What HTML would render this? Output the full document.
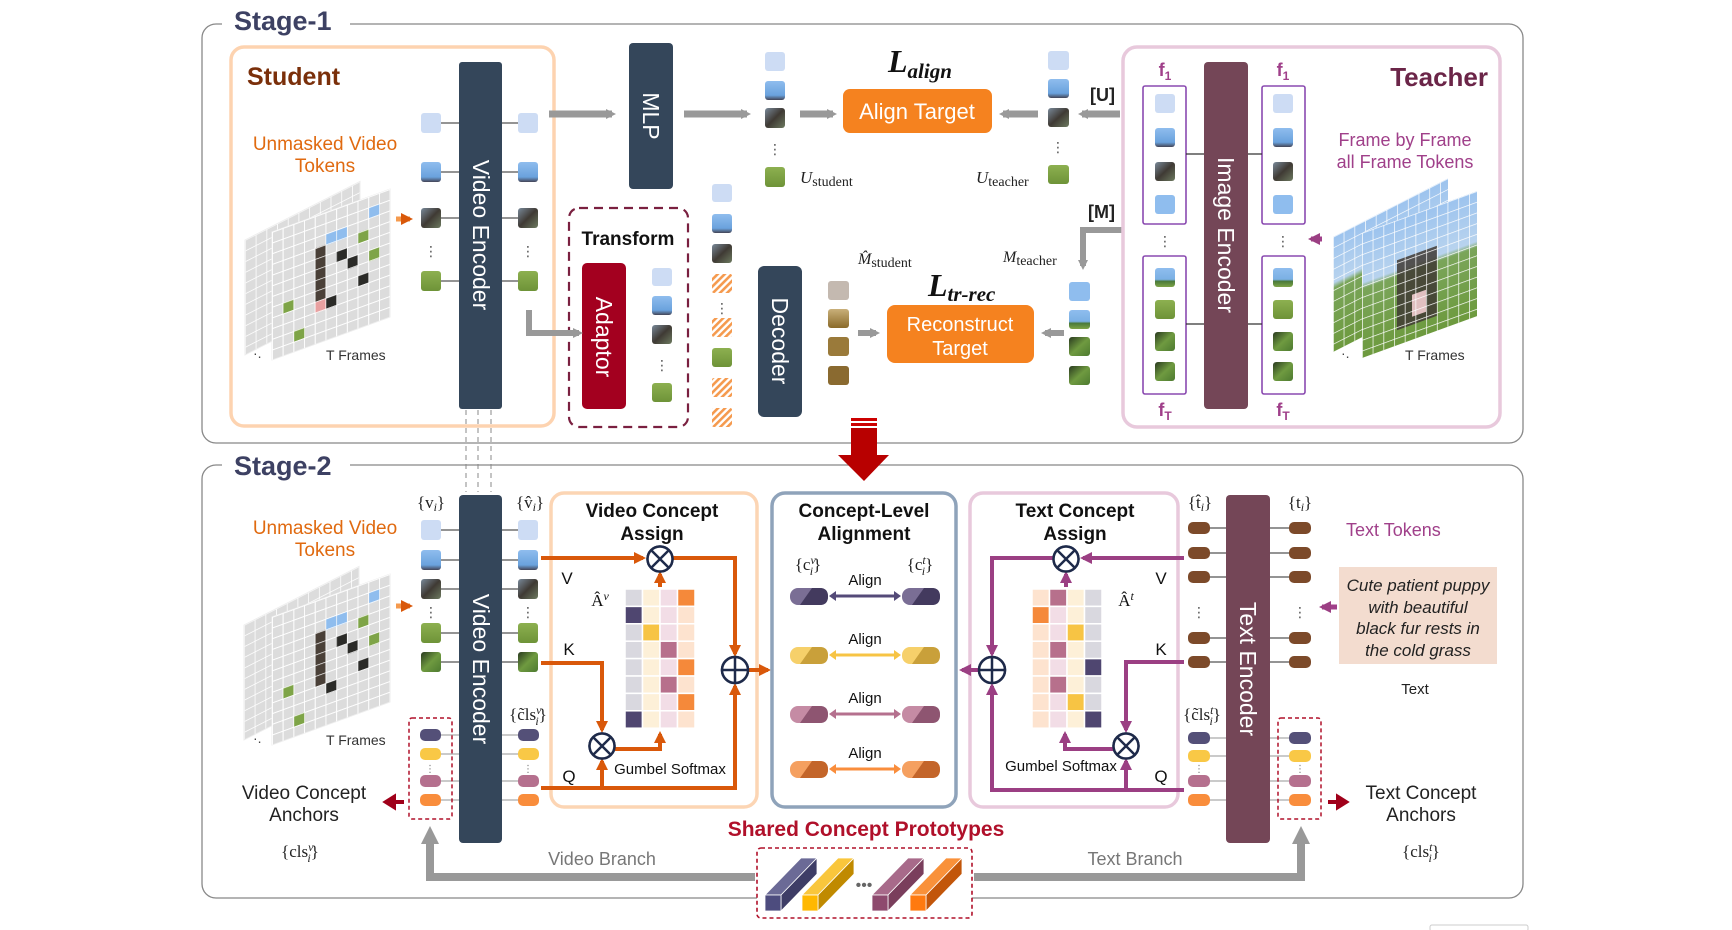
<!DOCTYPE html>
<html><head><meta charset="utf-8"><style>
html,body{margin:0;padding:0;background:#fff}
svg{display:block}
text{font-family:"Liberation Sans","DejaVu Sans",sans-serif}
.s{font-family:"Liberation Serif",serif}
</style></head><body>
<svg width="1732" height="930" viewBox="0 0 1732 930" xmlns="http://www.w3.org/2000/svg">
<defs>
<marker id="ag" markerWidth="10" markerHeight="10" refX="6" refY="5" orient="auto" markerUnits="userSpaceOnUse"><path d="M0,0 L10,5 L0,10 z" fill="#999"/></marker>
<marker id="ao" markerWidth="12" markerHeight="12" refX="9" refY="6" orient="auto" markerUnits="userSpaceOnUse"><path d="M0,0 L12,6 L0,12 z" fill="#d9580a"/></marker>
<marker id="ap" markerWidth="12" markerHeight="12" refX="9" refY="6" orient="auto" markerUnits="userSpaceOnUse"><path d="M0,0 L12,6 L0,12 z" fill="#9b3f83"/></marker>
<marker id="aG" markerWidth="18" markerHeight="18" refX="10" refY="9" orient="auto" markerUnits="userSpaceOnUse"><path d="M0,0 L18,9 L0,18 z" fill="#999"/></marker>
<pattern id="grid" width="10.7" height="10.7" patternUnits="userSpaceOnUse"><rect width="10.7" height="10.7" fill="#dcdcdc"/><path d="M0,0H10.7M0,0V10.7" stroke="#fff" stroke-width="1.6"/></pattern>
<pattern id="gridg" width="10.7" height="10.7" patternUnits="userSpaceOnUse"><path d="M0,0H10.7M0,0V10.7" stroke="#fff" stroke-width="1.4"/></pattern>
<linearGradient id="tg" x1="0" y1="0" x2="0" y2="1"><stop offset="0" stop-color="#9cc3ee"/><stop offset=".4" stop-color="#b8d3ee"/><stop offset=".45" stop-color="#7aa55a"/><stop offset="1" stop-color="#6d9a3e"/></linearGradient>
<pattern id="hatch" width="5" height="5" patternUnits="userSpaceOnUse" patternTransform="rotate(45)"><rect width="5" height="5" fill="#fff"/><rect width="2.6" height="5" fill="#f59a4e"/></pattern>
<linearGradient id="dog" x1="0" y1="0" x2="1" y2="1"><stop offset="0" stop-color="#7a8a9a"/><stop offset=".5" stop-color="#3f3a34"/><stop offset="1" stop-color="#6d7a60"/></linearGradient>
<linearGradient id="sky" x1="0" y1="0" x2="0" y2="1"><stop offset="0" stop-color="#8fbdee"/><stop offset=".75" stop-color="#6aa2dd"/><stop offset="1" stop-color="#445"/></linearGradient>
<linearGradient id="skyg" x1="0" y1="0" x2="0" y2="1"><stop offset="0" stop-color="#8fbdee"/><stop offset=".6" stop-color="#7ab0e4"/><stop offset=".7" stop-color="#4a7a3a"/><stop offset="1" stop-color="#7ea447"/></linearGradient>
<linearGradient id="grs" x1="0" y1="0" x2="0" y2="1"><stop offset="0" stop-color="#8db050"/><stop offset="1" stop-color="#6e9338"/></linearGradient>
<linearGradient id="grd" x1="0" y1="0" x2="1" y2="1"><stop offset="0" stop-color="#2a3a20"/><stop offset=".5" stop-color="#6f9a40"/><stop offset="1" stop-color="#4d7a30"/></linearGradient>
<linearGradient id="brn" x1="0" y1="0" x2="0" y2="1"><stop offset="0" stop-color="#c9b07a"/><stop offset="1" stop-color="#8a6a2a"/></linearGradient>
</defs>

<!-- Stage boxes -->
<rect x="202" y="24" width="1321" height="419" rx="14" fill="none" stroke="#888" stroke-width="1.3"/>
<rect x="222" y="8" width="128" height="32" fill="#fff"/>
<text x="234" y="30" font-size="27" font-weight="bold" fill="#3d4163">Stage-1</text>
<rect x="202" y="465" width="1321" height="433" rx="14" fill="none" stroke="#888" stroke-width="1.3"/>
<rect x="222" y="450" width="128" height="32" fill="#fff"/>
<text x="234" y="475" font-size="27" font-weight="bold" fill="#3d4163">Stage-2</text>

<!-- ===== STAGE 1 ===== -->
<rect x="231" y="47" width="323" height="379" rx="13" fill="none" stroke="#fdd3b0" stroke-width="3.5"/>
<text x="247" y="85" font-size="25" font-weight="bold" fill="#7a2f0a">Student</text>
<text x="325" y="150" font-size="19" fill="#e06a10" text-anchor="middle">Unmasked Video</text>
<text x="325" y="172" font-size="19" fill="#e06a10" text-anchor="middle">Tokens</text>

<!-- student frames -->
<g transform="translate(245,240) skewY(-27)"><rect width="115" height="115" fill="url(#grid)" stroke="#eee"/></g>
<g transform="translate(272,232) skewY(-20)">
<rect width="118" height="128" fill="url(#grid)" stroke="#eee"/>
<rect x="43" y="32" width="11" height="54" fill="#4a4038"/><rect x="54" y="22" width="21" height="11" fill="#8fbdee"/><rect x="64" y="43" width="11" height="11" fill="#2b2b28"/>
<rect x="75" y="54" width="11" height="11" fill="#2b2b28"/><rect x="86" y="32" width="11" height="11" fill="#7ea447"/><rect x="97" y="54" width="11" height="11" fill="#7ea447"/>
<rect x="11" y="75" width="11" height="11" fill="#7ea447"/><rect x="54" y="86" width="11" height="11" fill="#2b2b28"/><rect x="22" y="107" width="11" height="11" fill="#7ea447"/>
<rect x="86" y="75" width="11" height="11" fill="#2b2b28"/><rect x="43" y="86" width="11" height="11" fill="#e8a0a0"/><rect x="97" y="11" width="11" height="11" fill="#8fbdee"/>
<rect width="118" height="128" fill="url(#gridg)"/></g>
<text x="253" y="358" font-size="14" fill="#444">·.</text>
<text x="326" y="360" font-size="14" fill="#333">T Frames</text>
<path d="M396,219 H410" stroke="#f59a4e" stroke-width="5" marker-end="url(#ao)"/>

<rect x="459" y="62" width="43" height="347" rx="3" fill="#34465a"/>
<text transform="translate(473,235) rotate(90)" font-size="23" fill="#fff" text-anchor="middle">Video Encoder</text>
<g stroke="#555" stroke-width="1.3"><path d="M441,123H459M441,172H459M441,218H459M441,281H459M502,123H518M502,172H518M502,218H518M502,281H518"/></g>
<g>
<rect x="421" y="113" width="20" height="20" rx="3" fill="#cddcf4"/><rect x="518" y="113" width="20" height="20" rx="3" fill="#cddcf4"/>
<rect x="421" y="162" width="20" height="20" rx="3" fill="url(#sky)"/><rect x="518" y="162" width="20" height="20" rx="3" fill="url(#sky)"/>
<rect x="421" y="208" width="20" height="20" rx="3" fill="url(#dog)"/><rect x="518" y="208" width="20" height="20" rx="3" fill="url(#dog)"/>
<rect x="421" y="271" width="20" height="20" rx="3" fill="url(#grs)"/><rect x="518" y="271" width="20" height="20" rx="3" fill="url(#grs)"/>
</g>
<text x="431" y="256" font-size="14" fill="#555" text-anchor="middle">⋮</text><text x="528" y="256" font-size="14" fill="#555" text-anchor="middle">⋮</text>

<!-- MLP -->
<path d="M549,114 H612" stroke="#999" stroke-width="7" marker-end="url(#ag)"/>
<rect x="629" y="43" width="44" height="146" rx="4" fill="#34465a"/>
<text transform="translate(643,116) rotate(90)" font-size="23" fill="#fff" text-anchor="middle">MLP</text>
<path d="M684,114 H747" stroke="#999" stroke-width="7" marker-end="url(#ag)"/>
<rect x="765" y="52" width="20" height="19" rx="3" fill="#cddcf4"/>
<rect x="765" y="81" width="20" height="19" rx="3" fill="url(#sky)"/>
<rect x="765" y="108" width="20" height="20" rx="3" fill="url(#dog)"/>
<text x="775" y="154" font-size="14" fill="#555" text-anchor="middle">⋮</text>
<rect x="765" y="167" width="20" height="20" rx="3" fill="url(#grs)"/>
<text x="800" y="183" class="s" font-size="17" font-style="italic" fill="#222">U<tspan font-style="normal" font-size="14" dy="3">student</tspan></text>
<path d="M800,114 H833" stroke="#999" stroke-width="7" marker-end="url(#ag)"/>
<rect x="843" y="89" width="149" height="44" rx="7" fill="#f5821f"/>
<text x="917" y="119" font-size="22" fill="#fff" text-anchor="middle">Align Target</text>
<text x="888" y="72" class="s" font-size="32" font-weight="bold" font-style="italic" fill="#111">L<tspan font-size="21" dy="6">align</tspan></text>

<path d="M1038,114 H1003" stroke="#999" stroke-width="7" marker-end="url(#ag)"/>
<rect x="1048" y="51" width="21" height="19" rx="3" fill="#cddcf4"/>
<rect x="1048" y="79" width="21" height="19" rx="3" fill="url(#sky)"/>
<rect x="1048" y="108" width="21" height="19" rx="3" fill="url(#dog)"/>
<text x="1058" y="152" font-size="14" fill="#555" text-anchor="middle">⋮</text>
<rect x="1048" y="165" width="21" height="19" rx="3" fill="url(#grs)"/>
<text x="976" y="183" class="s" font-size="17" font-style="italic" fill="#222">U<tspan font-style="normal" font-size="14" dy="3">teacher</tspan></text>
<path d="M1120,114 H1082" stroke="#999" stroke-width="7" marker-end="url(#ag)"/>
<text x="1090" y="101" font-size="18" font-weight="bold" fill="#222">[U]</text>
<text x="1088" y="218" font-size="18" font-weight="bold" fill="#222">[M]</text>
<path d="M1122,230 H1083 V266" stroke="#999" stroke-width="6" fill="none" marker-end="url(#ag)"/>

<!-- Transform -->
<rect x="569" y="208" width="119" height="219" rx="10" fill="none" stroke="#7a2040" stroke-width="2.2" stroke-dasharray="9,6"/>
<text x="628" y="245" font-size="19" font-weight="bold" fill="#111" text-anchor="middle">Transform</text>
<rect x="582" y="263" width="44" height="146" rx="5" fill="#a3001f"/>
<text transform="translate(596,337) rotate(90)" font-size="23" fill="#fff" text-anchor="middle">Adaptor</text>
<path d="M529,310 V333 H579" stroke="#999" stroke-width="6" fill="none" marker-end="url(#ag)"/>
<rect x="652" y="268" width="20" height="18" rx="3" fill="#cddcf4"/>
<rect x="652" y="296" width="20" height="19" rx="3" fill="url(#sky)"/>
<rect x="652" y="325" width="20" height="19" rx="3" fill="url(#dog)"/>
<text x="662" y="370" font-size="14" fill="#555" text-anchor="middle">⋮</text>
<rect x="652" y="383" width="20" height="19" rx="3" fill="url(#grs)"/>

<g>
<rect x="712" y="184" width="20" height="18" rx="3" fill="#cddcf4"/>
<rect x="712" y="214" width="20" height="19" rx="3" fill="url(#sky)"/>
<rect x="712" y="244" width="20" height="19" rx="3" fill="url(#dog)"/>
<rect x="712" y="274" width="20" height="19" rx="2" fill="url(#hatch)"/>
<text x="722" y="313" font-size="14" fill="#555" text-anchor="middle">⋮</text>
<rect x="712" y="318" width="20" height="19" rx="2" fill="url(#hatch)"/>
<rect x="712" y="348" width="20" height="19" rx="3" fill="url(#grs)"/>
<rect x="712" y="378" width="20" height="19" rx="2" fill="url(#hatch)"/>
<rect x="712" y="408" width="20" height="19" rx="2" fill="url(#hatch)"/>
</g>
<rect x="758" y="266" width="44" height="151" rx="6" fill="#34465a"/>
<text transform="translate(772,341) rotate(90)" font-size="23" fill="#fff" text-anchor="middle">Decoder</text>
<rect x="828" y="281" width="21" height="19" rx="3" fill="#c4b9b0"/>
<rect x="828" y="309" width="21" height="19" rx="3" fill="url(#brn)"/>
<rect x="828" y="337" width="21" height="19" rx="3" fill="#9a7a3a"/>
<rect x="828" y="366" width="21" height="19" rx="3" fill="#8a6a30"/>
<text x="858" y="264" class="s" font-size="16" font-style="italic" fill="#222">M̂<tspan font-style="normal" font-size="14" dy="3">student</tspan></text>
<path d="M858,333 H876" stroke="#999" stroke-width="6" marker-end="url(#ag)"/>
<rect x="887" y="305" width="147" height="58" rx="8" fill="#f5821f"/>
<text x="960" y="331" font-size="20" fill="#fff" text-anchor="middle">Reconstruct</text>
<text x="960" y="355" font-size="20" fill="#fff" text-anchor="middle">Target</text>
<text x="928" y="296" class="s" font-size="32" font-weight="bold" font-style="italic" fill="#111">L<tspan font-size="21" dy="5">tr-rec</tspan></text>
<text x="1003" y="262" class="s" font-size="16" font-style="italic" fill="#222">M<tspan font-style="normal" font-size="14" dy="3">teacher</tspan></text>
<path d="M1064,333 H1045" stroke="#999" stroke-width="6" marker-end="url(#ag)"/>
<rect x="1069" y="282" width="21" height="19" rx="3" fill="#8fbdee"/>
<rect x="1069" y="310" width="21" height="19" rx="3" fill="url(#skyg)"/>
<rect x="1069" y="337" width="21" height="19" rx="3" fill="url(#grd)"/>
<rect x="1069" y="366" width="21" height="19" rx="3" fill="url(#grd)"/>

<!-- Teacher -->
<rect x="1123" y="47" width="377" height="380" rx="14" fill="none" stroke="#e8c9dc" stroke-width="3.5"/>
<text x="1488" y="86" font-size="26" font-weight="bold" fill="#6b2548" text-anchor="end">Teacher</text>
<text x="1405" y="146" font-size="18" fill="#a0408a" text-anchor="middle">Frame by Frame</text>
<text x="1405" y="168" font-size="18" fill="#a0408a" text-anchor="middle">all Frame Tokens</text>
<rect x="1204" y="62" width="44" height="347" rx="4" fill="#744657"/>
<text transform="translate(1218,235) rotate(90)" font-size="23" fill="#fff" text-anchor="middle">Image Encoder</text>
<g fill="none" stroke="#8a4ab0" stroke-width="1.6">
<rect x="1143" y="86" width="43" height="138" rx="2"/><rect x="1143" y="256" width="43" height="138" rx="2"/>
<rect x="1262" y="86" width="43" height="138" rx="2"/><rect x="1262" y="256" width="43" height="138" rx="2"/></g>
<path d="M1186,154H1204M1186,324H1204M1248,154H1262M1248,324H1262" stroke="#333" stroke-width="1.3"/>
<g>
<rect x="1155" y="94" width="20" height="19" rx="3" fill="#cddcf4"/><rect x="1273" y="94" width="20" height="19" rx="3" fill="#cddcf4"/>
<rect x="1155" y="128" width="20" height="19" rx="3" fill="url(#sky)"/><rect x="1273" y="128" width="20" height="19" rx="3" fill="url(#sky)"/>
<rect x="1155" y="162" width="20" height="19" rx="3" fill="url(#dog)"/><rect x="1273" y="162" width="20" height="19" rx="3" fill="url(#dog)"/>
<rect x="1155" y="195" width="20" height="19" rx="3" fill="#8fbdee"/><rect x="1273" y="195" width="20" height="19" rx="3" fill="#8fbdee"/>
<rect x="1155" y="268" width="20" height="19" rx="3" fill="url(#skyg)"/><rect x="1273" y="268" width="20" height="19" rx="3" fill="url(#skyg)"/>
<rect x="1155" y="300" width="20" height="19" rx="3" fill="url(#grs)"/><rect x="1273" y="300" width="20" height="19" rx="3" fill="url(#grs)"/>
<rect x="1155" y="332" width="20" height="19" rx="3" fill="url(#grd)"/><rect x="1273" y="332" width="20" height="19" rx="3" fill="url(#grd)"/>
<rect x="1155" y="362" width="20" height="19" rx="3" fill="url(#grd)"/><rect x="1273" y="362" width="20" height="19" rx="3" fill="url(#grd)"/>
</g>
<text x="1165" y="246" font-size="14" fill="#555" text-anchor="middle">⋮</text><text x="1283" y="246" font-size="14" fill="#555" text-anchor="middle">⋮</text>
<g font-size="18" font-weight="bold" fill="#a0408a" text-anchor="middle">
<text x="1165" y="76">f<tspan font-size="12" dy="4">1</tspan></text><text x="1283" y="76">f<tspan font-size="12" dy="4">1</tspan></text>
<text x="1165" y="416">f<tspan font-size="12" dy="4">T</tspan></text><text x="1283" y="416">f<tspan font-size="12" dy="4">T</tspan></text></g>
<path d="M1322,239 H1311" stroke="#a0408a" stroke-width="5" marker-end="url(#ap)"/>
<g transform="translate(1333,237) skewY(-27)"><rect width="115" height="115" fill="url(#tg)"/><rect width="115" height="115" fill="url(#gridg)"/></g>
<g transform="translate(1362,233) skewY(-20)"><rect width="115" height="125" fill="url(#tg)"/><rect x="35" y="40" width="40" height="70" fill="#3f3a34" opacity=".85"/><rect x="50" y="80" width="14" height="22" fill="#e0c0c0"/><rect width="115" height="125" fill="url(#gridg)"/></g>
<text x="1341" y="358" font-size="14" fill="#444">·.</text>
<text x="1405" y="360" font-size="14" fill="#333">T Frames</text>

<!-- dashed connectors & red arrow -->
<path d="M466,410V492M478,410V492M491,410V492" stroke="#888" stroke-width="1" stroke-dasharray="5,4"/>
<rect x="851" y="418" width="26" height="3" fill="#c00"/><rect x="851" y="423" width="26" height="3" fill="#c00"/>
<path d="M851,428 H877 V455 H889 L864,481 L838,455 H851 Z" fill="#b80000"/>

<!-- ===== STAGE 2 ===== -->
<text x="325" y="534" font-size="19" fill="#e06a10" text-anchor="middle">Unmasked Video</text>
<text x="325" y="556" font-size="19" fill="#e06a10" text-anchor="middle">Tokens</text>
<g transform="translate(244,625) skewY(-27)"><rect width="115" height="115" fill="url(#grid)" stroke="#eee"/></g>
<g transform="translate(272,617) skewY(-20)">
<rect width="118" height="128" fill="url(#grid)" stroke="#eee"/>
<rect x="43" y="32" width="11" height="54" fill="#4a4038"/><rect x="54" y="22" width="21" height="11" fill="#8fbdee"/><rect x="64" y="43" width="11" height="11" fill="#2b2b28"/>
<rect x="75" y="54" width="11" height="11" fill="#2b2b28"/><rect x="86" y="32" width="11" height="11" fill="#7ea447"/><rect x="97" y="54" width="11" height="11" fill="#7ea447"/>
<rect x="11" y="75" width="11" height="11" fill="#7ea447"/><rect x="54" y="86" width="11" height="11" fill="#2b2b28"/><rect x="22" y="107" width="11" height="11" fill="#7ea447"/>
<rect x="86" y="75" width="11" height="11" fill="#2b2b28"/><rect x="97" y="11" width="11" height="11" fill="#8fbdee"/>
<rect width="118" height="128" fill="url(#gridg)"/></g>
<text x="253" y="743" font-size="14" fill="#444">·.</text>
<text x="326" y="745" font-size="14" fill="#333">T Frames</text>
<path d="M396,606 H410" stroke="#f59a4e" stroke-width="5" marker-end="url(#ao)"/>

<rect x="459" y="495" width="43" height="348" rx="4" fill="#34465a"/>
<text transform="translate(473,669) rotate(90)" font-size="23" fill="#fff" text-anchor="middle">Video Encoder</text>
<text x="431" y="508" class="s" font-size="17" fill="#222" text-anchor="middle">{v<tspan font-style="italic" font-size="12" dy="3">i</tspan><tspan dy="-3">}</tspan></text>
<text x="530" y="508" class="s" font-size="17" fill="#222" text-anchor="middle">{v̂<tspan font-style="italic" font-size="12" dy="3">i</tspan><tspan dy="-3">}</tspan></text>
<path d="M441,530H459M441,560H459M441,589H459M441,633H459M441,662H459M502,530H518M502,560H518M502,589H518M502,633H518M502,662H518" stroke="#555" stroke-width="1.3"/>
<g>
<rect x="421" y="520" width="20" height="20" rx="3" fill="#cddcf4"/><rect x="518" y="520" width="20" height="20" rx="3" fill="#cddcf4"/>
<rect x="421" y="550" width="20" height="20" rx="3" fill="url(#sky)"/><rect x="518" y="550" width="20" height="20" rx="3" fill="url(#sky)"/>
<rect x="421" y="579" width="20" height="20" rx="3" fill="url(#dog)"/><rect x="518" y="579" width="20" height="20" rx="3" fill="url(#dog)"/>
<rect x="421" y="623" width="20" height="20" rx="3" fill="url(#grs)"/><rect x="518" y="623" width="20" height="20" rx="3" fill="url(#grs)"/>
<rect x="421" y="652" width="20" height="20" rx="3" fill="url(#grd)"/><rect x="518" y="652" width="20" height="20" rx="3" fill="url(#grd)"/>
</g>
<text x="431" y="617" font-size="14" fill="#555" text-anchor="middle">⋮</text><text x="528" y="617" font-size="14" fill="#555" text-anchor="middle">⋮</text>
<!-- cls video -->
<path d="M440,735H459M440,754H459M440,781H459M440,800H459M502,735H518M502,754H518M502,781H518M502,800H518" stroke-width="1.3" stroke="#aaa"/>
<g>
<rect x="420" y="729" width="21" height="12" rx="5" fill="#545078"/><rect x="518" y="729" width="21" height="12" rx="5" fill="#545078"/>
<rect x="420" y="748" width="21" height="12" rx="5" fill="#f9c846"/><rect x="518" y="748" width="21" height="12" rx="5" fill="#f9c846"/>
<rect x="420" y="775" width="21" height="12" rx="5" fill="#b5708e"/><rect x="518" y="775" width="21" height="12" rx="5" fill="#b5708e"/>
<rect x="420" y="794" width="21" height="12" rx="5" fill="#f98d3c"/><rect x="518" y="794" width="21" height="12" rx="5" fill="#f98d3c"/>
</g>
<text x="430" y="772" font-size="10" fill="#777" text-anchor="middle">⋮</text><text x="528" y="772" font-size="10" fill="#777" text-anchor="middle">⋮</text>
<rect x="409" y="718" width="43" height="101" rx="3" fill="none" stroke="#b0102a" stroke-width="1.5" stroke-dasharray="4,3"/>
<text x="528" y="720" class="s" font-size="17" fill="#222" text-anchor="middle">{c̃ls<tspan font-style="italic" font-size="12" dy="-6">v</tspan><tspan font-style="italic" font-size="12" dx="-6" dy="11">i</tspan><tspan dy="-5">}</tspan></text>
<text x="304" y="799" font-size="19" fill="#222" text-anchor="middle">Video Concept</text>
<text x="304" y="821" font-size="19" fill="#222" text-anchor="middle">Anchors</text>
<text x="300" y="857" class="s" font-size="17" fill="#222" text-anchor="middle">{cls<tspan font-style="italic" font-size="12" dy="-6">v</tspan><tspan font-style="italic" font-size="12" dx="-6" dy="11">i</tspan><tspan dy="-5">}</tspan></text>
<path d="M402,802 H392" stroke="#a0001a" stroke-width="4" marker-end="url(#ap)" style="marker-end:none"/>
<path d="M404,802 H394 M394,797 L386,802 L394,807 Z" stroke="#a0001a" stroke-width="4" fill="#a0001a"/>

<!-- Video Concept Assign -->
<rect x="551" y="493" width="206" height="314" rx="13" fill="none" stroke="#fcd5b4" stroke-width="3.5"/>
<text x="652" y="517" font-size="19" font-weight="bold" fill="#111" text-anchor="middle">Video Concept</text>
<text x="652" y="540" font-size="19" font-weight="bold" fill="#111" text-anchor="middle">Assign</text>
<g fill="none" stroke="#d9580a" stroke-width="4">
<path d="M541,558 H643" marker-end="url(#ao)"/>
<path d="M672,558 H735 V654" marker-end="url(#ao)"/>
<path d="M541,663 H602 V730" marker-end="url(#ao)"/>
<path d="M541,788 H735 V686" marker-end="url(#ao)"/>
<path d="M602,788 V761" marker-end="url(#ao)"/>
<path d="M615,749 H660 V734" marker-end="url(#ao)"/>
<path d="M660,587 V574" marker-end="url(#ao)"/>
<path d="M749,670 H768" marker-end="url(#ao)"/>
</g>
<text x="567" y="584" font-size="17" fill="#111" text-anchor="middle">V</text>
<text x="569" y="655" font-size="17" fill="#111" text-anchor="middle">K</text>
<text x="569" y="782" font-size="17" fill="#111" text-anchor="middle">Q</text>
<text x="600" y="606" class="s" font-size="17" fill="#111" text-anchor="middle">Â<tspan font-style="italic" font-size="12" dy="-6">v</tspan></text>
<text x="670" y="774" font-size="15" fill="#111" text-anchor="middle">Gumbel Softmax</text>
<g stroke="#fff" stroke-width="1.5">
<!-- video matrix: 4 cols x 8 rows -->
<rect x="625" y="589" width="17.5" height="17.4" fill="#d9d8df"/><rect x="642.5" y="589" width="17.5" height="17.4" fill="#fdf0d8"/><rect x="660" y="589" width="17.5" height="17.4" fill="#f2dde6"/><rect x="677.5" y="589" width="17.5" height="17.4" fill="#f5893a"/>
<rect x="625" y="606.4" width="17.5" height="17.4" fill="#4f4670"/><rect x="642.5" y="606.4" width="17.5" height="17.4" fill="#fdf0d8"/><rect x="660" y="606.4" width="17.5" height="17.4" fill="#f2dde6"/><rect x="677.5" y="606.4" width="17.5" height="17.4" fill="#fde3cf"/>
<rect x="625" y="623.8" width="17.5" height="17.4" fill="#d9d8df"/><rect x="642.5" y="623.8" width="17.5" height="17.4" fill="#f7c444"/><rect x="660" y="623.8" width="17.5" height="17.4" fill="#f2dde6"/><rect x="677.5" y="623.8" width="17.5" height="17.4" fill="#fde3cf"/>
<rect x="625" y="641.2" width="17.5" height="17.4" fill="#d9d8df"/><rect x="642.5" y="641.2" width="17.5" height="17.4" fill="#fdf0d8"/><rect x="660" y="641.2" width="17.5" height="17.4" fill="#b7708c"/><rect x="677.5" y="641.2" width="17.5" height="17.4" fill="#fde3cf"/>
<rect x="625" y="658.6" width="17.5" height="17.4" fill="#d9d8df"/><rect x="642.5" y="658.6" width="17.5" height="17.4" fill="#fdf0d8"/><rect x="660" y="658.6" width="17.5" height="17.4" fill="#f2dde6"/><rect x="677.5" y="658.6" width="17.5" height="17.4" fill="#f5893a"/>
<rect x="625" y="676" width="17.5" height="17.4" fill="#d9d8df"/><rect x="642.5" y="676" width="17.5" height="17.4" fill="#fdf0d8"/><rect x="660" y="676" width="17.5" height="17.4" fill="#b7708c"/><rect x="677.5" y="676" width="17.5" height="17.4" fill="#fde3cf"/>
<rect x="625" y="693.4" width="17.5" height="17.4" fill="#d9d8df"/><rect x="642.5" y="693.4" width="17.5" height="17.4" fill="#fdf0d8"/><rect x="660" y="693.4" width="17.5" height="17.4" fill="#f2dde6"/><rect x="677.5" y="693.4" width="17.5" height="17.4" fill="#f5893a"/>
<rect x="625" y="710.8" width="17.5" height="17.4" fill="#4f4670"/><rect x="642.5" y="710.8" width="17.5" height="17.4" fill="#fdf0d8"/><rect x="660" y="710.8" width="17.5" height="17.4" fill="#f2dde6"/><rect x="677.5" y="710.8" width="17.5" height="17.4" fill="#fde3cf"/>
</g>
<g fill="#fff" stroke="#1e2a4a" stroke-width="2.5">
<circle cx="660" cy="559" r="12.5"/><path d="M651,550 L669,568 M669,550 L651,568"/>
<circle cx="602" cy="746" r="12.5"/><path d="M593,737 L611,755 M611,737 L593,755"/>
<circle cx="735" cy="670" r="13"/><path d="M722,670 H748 M735,657 V683"/>
<circle cx="1066" cy="559" r="12.5"/><path d="M1057,550 L1075,568 M1075,550 L1057,568"/>
<circle cx="1126" cy="746" r="12.5"/><path d="M1117,737 L1135,755 M1135,737 L1117,755"/>
<circle cx="992" cy="670" r="13"/><path d="M979,670 H1005 M992,657 V683"/>
</g>

<!-- Concept-Level Alignment -->
<rect x="772" y="493" width="184" height="314" rx="13" fill="none" stroke="#8fa3ba" stroke-width="3.5"/>
<text x="864" y="517" font-size="19" font-weight="bold" fill="#111" text-anchor="middle">Concept-Level</text>
<text x="864" y="540" font-size="19" font-weight="bold" fill="#111" text-anchor="middle">Alignment</text>
<text x="808" y="570" class="s" font-size="17" fill="#222" text-anchor="middle">{c<tspan font-style="italic" font-size="12" dy="-6">v</tspan><tspan font-style="italic" font-size="12" dx="-6" dy="11">i</tspan><tspan dy="-5">}</tspan></text>
<text x="920" y="570" class="s" font-size="17" fill="#222" text-anchor="middle">{c<tspan font-style="italic" font-size="12" dy="-6">t</tspan><tspan font-style="italic" font-size="12" dx="-4" dy="11">i</tspan><tspan dy="-5">}</tspan></text>
<g font-size="15" fill="#111" text-anchor="middle"><text x="865" y="585">Align</text><text x="865" y="644">Align</text><text x="865" y="703">Align</text><text x="865" y="758">Align</text></g>
<g>
<rect x="790" y="588" width="38" height="17" rx="8" fill="#7a6e95"/><path d="M812,588 H820 Q828,588 828,596.5 Q828,605 820,605 H800 Z" fill="#433a5e"/>
<rect x="902" y="588" width="38" height="17" rx="8" fill="#7a6e95"/><path d="M924,588 H932 Q940,588 940,596.5 Q940,605 932,605 H912 Z" fill="#433a5e"/>
<rect x="790" y="647" width="38" height="17" rx="8" fill="#f6d06a"/><path d="M812,647 H820 Q828,647 828,655.5 Q828,664 820,664 H800 Z" fill="#c9a03a"/>
<rect x="902" y="647" width="38" height="17" rx="8" fill="#f6d06a"/><path d="M924,647 H932 Q940,647 940,655.5 Q940,664 932,664 H912 Z" fill="#c9a03a"/>
<rect x="790" y="706" width="38" height="17" rx="8" fill="#c58ba4"/><path d="M812,706 H820 Q828,706 828,714.5 Q828,723 820,723 H800 Z" fill="#8e5571"/>
<rect x="902" y="706" width="38" height="17" rx="8" fill="#c58ba4"/><path d="M924,706 H932 Q940,706 940,714.5 Q940,723 932,723 H912 Z" fill="#8e5571"/>
<rect x="790" y="761" width="38" height="17" rx="8" fill="#f5a060"/><path d="M812,761 H820 Q828,761 828,769.5 Q828,778 820,778 H800 Z" fill="#c3652a"/>
<rect x="902" y="761" width="38" height="17" rx="8" fill="#f5a060"/><path d="M924,761 H932 Q940,761 940,769.5 Q940,778 932,778 H912 Z" fill="#c3652a"/>
</g>
<g stroke-width="3">
<path d="M834,596 H896" stroke="#544a78"/><path d="M829,596 l7,-5 v10z M901,596 l-7,-5 v10z" fill="#544a78" stroke="none"/>
<path d="M834,655 H896" stroke="#f7c444"/><path d="M829,655 l7,-5 v10z M901,655 l-7,-5 v10z" fill="#f7c444" stroke="none"/>
<path d="M834,714 H896" stroke="#b5708e"/><path d="M829,714 l7,-5 v10z M901,714 l-7,-5 v10z" fill="#b5708e" stroke="none"/>
<path d="M834,769 H896" stroke="#f98d3c"/><path d="M829,769 l7,-5 v10z M901,769 l-7,-5 v10z" fill="#f98d3c" stroke="none"/>
</g>

<!-- Text Concept Assign -->
<rect x="970" y="493" width="208" height="314" rx="13" fill="none" stroke="#e8c9dc" stroke-width="3.5"/>
<text x="1075" y="517" font-size="19" font-weight="bold" fill="#111" text-anchor="middle">Text Concept</text>
<text x="1075" y="540" font-size="19" font-weight="bold" fill="#111" text-anchor="middle">Assign</text>
<g fill="none" stroke="#9b3f83" stroke-width="4">
<path d="M1184,558 H1083" marker-end="url(#ap)"/>
<path d="M1054,558 H992 V654" marker-end="url(#ap)"/>
<path d="M1184,662 H1126 V730" marker-end="url(#ap)"/>
<path d="M1184,790 H992 V686" marker-end="url(#ap)"/>
<path d="M1126,790 V761" marker-end="url(#ap)"/>
<path d="M1113,749 H1065 V734" marker-end="url(#ap)"/>
<path d="M1066,587 V574" marker-end="url(#ap)"/>
<path d="M979,670 H962" marker-end="url(#ap)"/>
</g>
<text x="1161" y="584" font-size="17" fill="#111" text-anchor="middle">V</text>
<text x="1161" y="655" font-size="17" fill="#111" text-anchor="middle">K</text>
<text x="1161" y="782" font-size="17" fill="#111" text-anchor="middle">Q</text>
<text x="1126" y="606" class="s" font-size="17" fill="#111" text-anchor="middle">Â<tspan font-style="italic" font-size="12" dy="-6">t</tspan></text>
<text x="1061" y="771" font-size="15" fill="#111" text-anchor="middle">Gumbel Softmax</text>
<g stroke="#fff" stroke-width="1.5">
<rect x="1032" y="589" width="17.5" height="17.4" fill="#fde3cf"/><rect x="1049.5" y="589" width="17.5" height="17.4" fill="#b7708c"/><rect x="1067" y="589" width="17.5" height="17.4" fill="#fdf0d8"/><rect x="1084.5" y="589" width="17.5" height="17.4" fill="#d9d8df"/>
<rect x="1032" y="606.4" width="17.5" height="17.4" fill="#f5893a"/><rect x="1049.5" y="606.4" width="17.5" height="17.4" fill="#f2dde6"/><rect x="1067" y="606.4" width="17.5" height="17.4" fill="#fdf0d8"/><rect x="1084.5" y="606.4" width="17.5" height="17.4" fill="#d9d8df"/>
<rect x="1032" y="623.8" width="17.5" height="17.4" fill="#fde3cf"/><rect x="1049.5" y="623.8" width="17.5" height="17.4" fill="#f2dde6"/><rect x="1067" y="623.8" width="17.5" height="17.4" fill="#f7c444"/><rect x="1084.5" y="623.8" width="17.5" height="17.4" fill="#d9d8df"/>
<rect x="1032" y="641.2" width="17.5" height="17.4" fill="#fde3cf"/><rect x="1049.5" y="641.2" width="17.5" height="17.4" fill="#b7708c"/><rect x="1067" y="641.2" width="17.5" height="17.4" fill="#fdf0d8"/><rect x="1084.5" y="641.2" width="17.5" height="17.4" fill="#d9d8df"/>
<rect x="1032" y="658.6" width="17.5" height="17.4" fill="#fde3cf"/><rect x="1049.5" y="658.6" width="17.5" height="17.4" fill="#f2dde6"/><rect x="1067" y="658.6" width="17.5" height="17.4" fill="#fdf0d8"/><rect x="1084.5" y="658.6" width="17.5" height="17.4" fill="#4f4670"/>
<rect x="1032" y="676" width="17.5" height="17.4" fill="#fde3cf"/><rect x="1049.5" y="676" width="17.5" height="17.4" fill="#b7708c"/><rect x="1067" y="676" width="17.5" height="17.4" fill="#fdf0d8"/><rect x="1084.5" y="676" width="17.5" height="17.4" fill="#d9d8df"/>
<rect x="1032" y="693.4" width="17.5" height="17.4" fill="#fde3cf"/><rect x="1049.5" y="693.4" width="17.5" height="17.4" fill="#f2dde6"/><rect x="1067" y="693.4" width="17.5" height="17.4" fill="#f7c444"/><rect x="1084.5" y="693.4" width="17.5" height="17.4" fill="#d9d8df"/>
<rect x="1032" y="710.8" width="17.5" height="17.4" fill="#fde3cf"/><rect x="1049.5" y="710.8" width="17.5" height="17.4" fill="#f2dde6"/><rect x="1067" y="710.8" width="17.5" height="17.4" fill="#fdf0d8"/><rect x="1084.5" y="710.8" width="17.5" height="17.4" fill="#4f4670"/>
</g>
<!-- redraw circles over lines -->
<g fill="#fff" stroke="#1e2a4a" stroke-width="2.5">
<circle cx="660" cy="559" r="12.5"/><path d="M651,550 L669,568 M669,550 L651,568"/>
<circle cx="602" cy="746" r="12.5"/><path d="M593,737 L611,755 M611,737 L593,755"/>
<circle cx="735" cy="670" r="13"/><path d="M722,670 H748 M735,657 V683"/>
<circle cx="1066" cy="559" r="12.5"/><path d="M1057,550 L1075,568 M1075,550 L1057,568"/>
<circle cx="1126" cy="746" r="12.5"/><path d="M1117,737 L1135,755 M1135,737 L1117,755"/>
<circle cx="992" cy="670" r="13"/><path d="M979,670 H1005 M992,657 V683"/>
</g>

<!-- Text Encoder -->
<rect x="1226" y="495" width="44" height="348" rx="4" fill="#744657"/>
<text transform="translate(1240,669) rotate(90)" font-size="23" fill="#fff" text-anchor="middle">Text Encoder</text>
<path d="M1210,528H1226M1210,553H1226M1210,577H1226M1210,638H1226M1210,662H1226M1270,528H1289M1270,553H1289M1270,577H1289M1270,638H1289M1270,662H1289" stroke="#555" stroke-width="1.3"/>
<g fill="#7c4a2a">
<rect x="1188" y="522" width="22" height="12" rx="5"/><rect x="1289" y="522" width="22" height="12" rx="5"/>
<rect x="1188" y="547" width="22" height="12" rx="5"/><rect x="1289" y="547" width="22" height="12" rx="5"/>
<rect x="1188" y="571" width="22" height="12" rx="5"/><rect x="1289" y="571" width="22" height="12" rx="5"/>
<rect x="1188" y="632" width="22" height="12" rx="5"/><rect x="1289" y="632" width="22" height="12" rx="5"/>
<rect x="1188" y="656" width="22" height="12" rx="5"/><rect x="1289" y="656" width="22" height="12" rx="5"/>
</g>
<text x="1199" y="617" font-size="14" fill="#555" text-anchor="middle">⋮</text><text x="1300" y="617" font-size="14" fill="#555" text-anchor="middle">⋮</text>
<path d="M1210,738H1226M1210,756H1226M1210,781H1226M1210,800H1226M1270,738H1289M1270,756H1289M1270,781H1289M1270,800H1289" stroke="#aaa" stroke-width="1.3"/>
<g>
<rect x="1188" y="732" width="22" height="12" rx="5" fill="#545078"/><rect x="1289" y="732" width="22" height="12" rx="5" fill="#545078"/>
<rect x="1188" y="750" width="22" height="12" rx="5" fill="#f9c846"/><rect x="1289" y="750" width="22" height="12" rx="5" fill="#f9c846"/>
<rect x="1188" y="775" width="22" height="12" rx="5" fill="#b5708e"/><rect x="1289" y="775" width="22" height="12" rx="5" fill="#b5708e"/>
<rect x="1188" y="794" width="22" height="12" rx="5" fill="#f98d3c"/><rect x="1289" y="794" width="22" height="12" rx="5" fill="#f98d3c"/>
</g>
<text x="1199" y="772" font-size="10" fill="#777" text-anchor="middle">⋮</text><text x="1300" y="772" font-size="10" fill="#777" text-anchor="middle">⋮</text>
<rect x="1278" y="718" width="43" height="101" rx="3" fill="none" stroke="#b0102a" stroke-width="1.5" stroke-dasharray="4,3"/>
<text x="1200" y="508" class="s" font-size="17" fill="#222" text-anchor="middle">{t̂<tspan font-style="italic" font-size="12" dy="3">i</tspan><tspan dy="-3">}</tspan></text>
<text x="1300" y="508" class="s" font-size="17" fill="#222" text-anchor="middle">{t<tspan font-style="italic" font-size="12" dy="3">i</tspan><tspan dy="-3">}</tspan></text>
<text x="1202" y="720" class="s" font-size="17" fill="#222" text-anchor="middle">{c̃ls<tspan font-style="italic" font-size="12" dy="-6">t</tspan><tspan font-style="italic" font-size="12" dx="-4" dy="11">i</tspan><tspan dy="-5">}</tspan></text>
<text x="1346" y="536" font-size="18" fill="#a0408a">Text Tokens</text>
<path d="M1337,607 H1322" stroke="#a0408a" stroke-width="5" marker-end="url(#ap)"/>
<rect x="1339" y="567" width="158" height="97" fill="#f3dccf"/>
<g class="s" font-size="17" font-style="italic" fill="#222" text-anchor="middle">
<text x="1418" y="591">Cute patient puppy</text><text x="1418" y="613">with beautiful</text><text x="1418" y="634">black fur rests in</text><text x="1418" y="656">the cold grass</text></g>
<text x="1415" y="694" font-size="15" fill="#222" text-anchor="middle">Text</text>
<path d="M1328,802 H1338 M1338,797 L1346,802 L1338,807 Z" stroke="#a0001a" stroke-width="4" fill="#a0001a"/>
<text x="1421" y="799" font-size="19" fill="#222" text-anchor="middle">Text Concept</text>
<text x="1421" y="821" font-size="19" fill="#222" text-anchor="middle">Anchors</text>
<text x="1421" y="857" class="s" font-size="17" fill="#222" text-anchor="middle">{cls<tspan font-style="italic" font-size="12" dy="-6">t</tspan><tspan font-style="italic" font-size="12" dx="-4" dy="11">i</tspan><tspan dy="-5">}</tspan></text>

<!-- Shared prototypes -->
<text x="866" y="836" font-size="21" font-weight="bold" fill="#b0102a" text-anchor="middle">Shared Concept Prototypes</text>
<rect x="757" y="848" width="215" height="70" rx="4" fill="#fff" stroke="#b0102a" stroke-width="1.6" stroke-dasharray="4,3"/>
<g stroke="#fff" stroke-width=".8">
<polygon points="765,895 781,895 817,858 801,858" fill="#6b6a96"/><polygon points="781,895 781,911 817,874 817,858" fill="#3e3d66"/><rect x="765" y="895" width="16" height="16" fill="#4d4c7e"/>
<polygon points="802,895 818,895 854,858 838,858" fill="#f9c63c"/><polygon points="818,895 818,911 854,874 854,858" fill="#c08a00"/><rect x="802" y="895" width="16" height="16" fill="#ffb800"/>
<polygon points="872,895 888,895 924,858 908,858" fill="#a86a8a"/><polygon points="888,895 888,911 924,874 924,858" fill="#7a3e5c"/><rect x="872" y="895" width="16" height="16" fill="#8e4a6e"/>
<polygon points="910,895 926,895 962,858 946,858" fill="#f9913a"/><polygon points="926,895 926,911 962,874 962,858" fill="#c2560a"/><rect x="910" y="895" width="16" height="16" fill="#ff7a10"/>
</g>
<text x="864" y="890" font-size="16" fill="#666" text-anchor="middle">•••</text>
<text x="602" y="865" font-size="18" fill="#777" text-anchor="middle">Video Branch</text>
<text x="1135" y="865" font-size="18" fill="#777" text-anchor="middle">Text Branch</text>
<path d="M755,877 H430 V834" stroke="#999" stroke-width="8" fill="none" marker-end="url(#aG)"/>
<path d="M974,877 H1301 V834" stroke="#999" stroke-width="8" fill="none" marker-end="url(#aG)"/>
<rect x="1430" y="925" width="98" height="6" rx="2" fill="none" stroke="#ccc"/>
</svg>
</body></html>
